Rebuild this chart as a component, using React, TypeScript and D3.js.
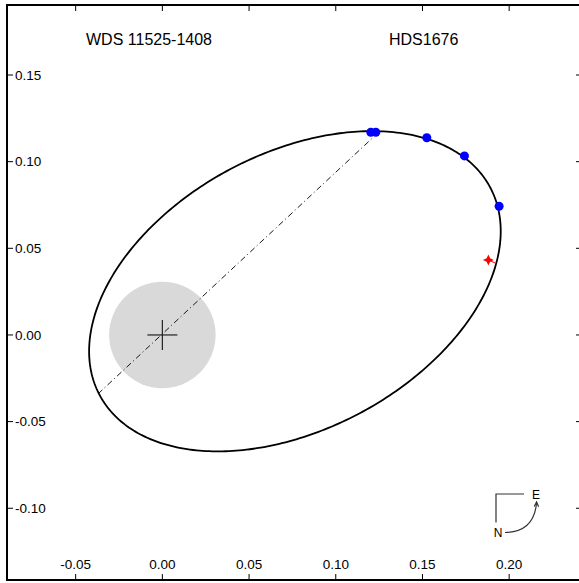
import React from "react";
import * as d3 from "d3";

const W = 579;
const H = 583;
const FRAME = { left: 7, top: 5, right: 582, bottom: 580 };
const xDomain = [-0.0896, 0.242];
const yDomain = [-0.1414, 0.1904];
const xTicks = [-0.05, 0.0, 0.05, 0.1, 0.15, 0.2];
const yTicks = [-0.1, -0.05, 0.0, 0.05, 0.1, 0.15];
const titleLeft = "WDS 11525-1408";
const titleRight = "HDS1676";

// apparent orbit ellipse: center x, center y, semi-major, semi-minor, tilt (deg)
const orbitEllipse = [0.07644, 0.02522, 0.12757, 0.0797, 28.0];
// line of nodes endpoints
const nodeLineX = [-0.0371, 0.1209];
const nodeLineY = [-0.034, 0.1134];
// observations (blue)
const obsX = [0.1202, 0.1231, 0.1525, 0.1742, 0.1942];
const obsY = [0.117, 0.117, 0.1138, 0.1033, 0.0743];
// red observation and its predicted position
const redX = [0.188];
const redY = [0.0433];
const redPredX = [0.1919];
const redPredY = [0.0415];
const primaryRadius = 0.0307;

export default function App() {
  const x = d3.scaleLinear().domain(xDomain).range([FRAME.left, FRAME.right]);
  const y = d3.scaleLinear().domain(yDomain).range([FRAME.bottom, FRAME.top]);
  const [cx, cy, a, b, thDeg] = orbitEllipse;
  const th = (thDeg * Math.PI) / 180;
  const ts = d3.range(0, 361).map((d) => (d * Math.PI) / 180);
  const pts: [number, number][] = ts.map((t) => [
    cx + a * Math.cos(t) * Math.cos(th) - b * Math.sin(t) * Math.sin(th),
    cy + a * Math.cos(t) * Math.sin(th) + b * Math.sin(t) * Math.cos(th),
  ]);
  const line = d3
    .line<[number, number]>()
    .x((d) => x(d[0]))
    .y((d) => y(d[1]));
  const font = "'Liberation Sans', Arial, sans-serif";
  const tickLen = 6;
  const starPath = (px: number, py: number, r: number) => {
    const ri = r * 0.45;
    const p: string[] = [];
    for (let i = 0; i < 8; i++) {
      const ang = (i * Math.PI) / 4 - Math.PI / 2;
      const rr = i % 2 === 0 ? r : ri;
      p.push(`${px + rr * Math.cos(ang)},${py + rr * Math.sin(ang)}`);
    }
    return "M" + p.join("L") + "Z";
  };
  return (
    <svg
      width={W}
      height={H}
      style={{ position: "absolute", left: 0, top: 0, background: "#fff" }}
      fontFamily={font}
    >
      <rect x={0} y={0} width={W} height={H} fill="#fff" />
      <circle
        cx={x(0)}
        cy={y(0)}
        r={x(primaryRadius) - x(0)}
        fill="#d9d9d9"
      />
      <line
        x1={x(nodeLineX[0])}
        y1={y(nodeLineY[0])}
        x2={x(nodeLineX[1])}
        y2={y(nodeLineY[1])}
        stroke="#000"
        strokeWidth={0.9}
        strokeDasharray="6,3,1,3"
      />
      <line x1={x(0) - 15} x2={x(0) + 15} y1={y(0)} y2={y(0)} stroke="#222" strokeWidth={1.2} />
      <line x1={x(0)} x2={x(0)} y1={y(0) - 15} y2={y(0) + 15} stroke="#222" strokeWidth={1.2} />
      <path d={line(pts) || ""} fill="none" stroke="#000" strokeWidth={1.8} />
      {redX.map((d, i) => (
        <g key={"r" + i}>
          <line
            x1={x(d)}
            y1={y(redY[i])}
            x2={x(redPredX[i])}
            y2={y(redPredY[i])}
            stroke="#ff0000"
            strokeWidth={1}
          />
          <path d={starPath(x(d), y(redY[i]), 5.5)} fill="#ff0000" />
        </g>
      ))}
      {obsX.map((d, i) => (
        <circle key={"o" + i} cx={x(d)} cy={y(obsY[i])} r={4.5} fill="#0000ff" />
      ))}
      <rect
        x={FRAME.left}
        y={FRAME.top}
        width={FRAME.right - FRAME.left}
        height={FRAME.bottom - FRAME.top}
        fill="none"
        stroke="#000"
        strokeWidth={2}
      />
      {xTicks.map((t) => (
        <g key={"xt" + t}>
          <line x1={x(t)} x2={x(t)} y1={FRAME.bottom} y2={FRAME.bottom - tickLen} stroke="#000" strokeWidth={1} />
          <line x1={x(t)} x2={x(t)} y1={FRAME.top} y2={FRAME.top + tickLen} stroke="#000" strokeWidth={1} />
          <text x={x(t)} y={569} textAnchor="middle" fontSize={13.5} fill="#000">
            {d3.format(".2f")(t).replace("−", "-")}
          </text>
        </g>
      ))}
      {yTicks.map((t) => (
        <g key={"yt" + t}>
          <line x1={FRAME.left} x2={FRAME.left + tickLen} y1={y(t)} y2={y(t)} stroke="#000" strokeWidth={1} />
          <line x1={FRAME.right} x2={FRAME.right - tickLen} y1={y(t)} y2={y(t)} stroke="#000" strokeWidth={1} />
          <text x={15} y={y(t) + 4.8} textAnchor="start" fontSize={13.5} fill="#000">
            {d3.format(".2f")(t).replace("−", "-")}
          </text>
        </g>
      ))}
      <text x={86} y={45} fontSize={16} fill="#000">{titleLeft}</text>
      <text x={389} y={45} fontSize={16} fill="#000">{titleRight}</text>
      <g stroke="#333" strokeWidth={1.2} fill="none">
        <path d="M524,494 L496,494 L496,522.5" />
        <path d="M505,532.5 Q534,532 536.5,503" />
        <path d="M534.2,506.5 L536.6,502 L538.6,506.8" />
      </g>
      <text x={536} y={498.5} textAnchor="middle" fontSize={12} fill="#000">E</text>
      <text x={498} y={537} textAnchor="middle" fontSize={12} fill="#000">N</text>
    </svg>
  );
}
